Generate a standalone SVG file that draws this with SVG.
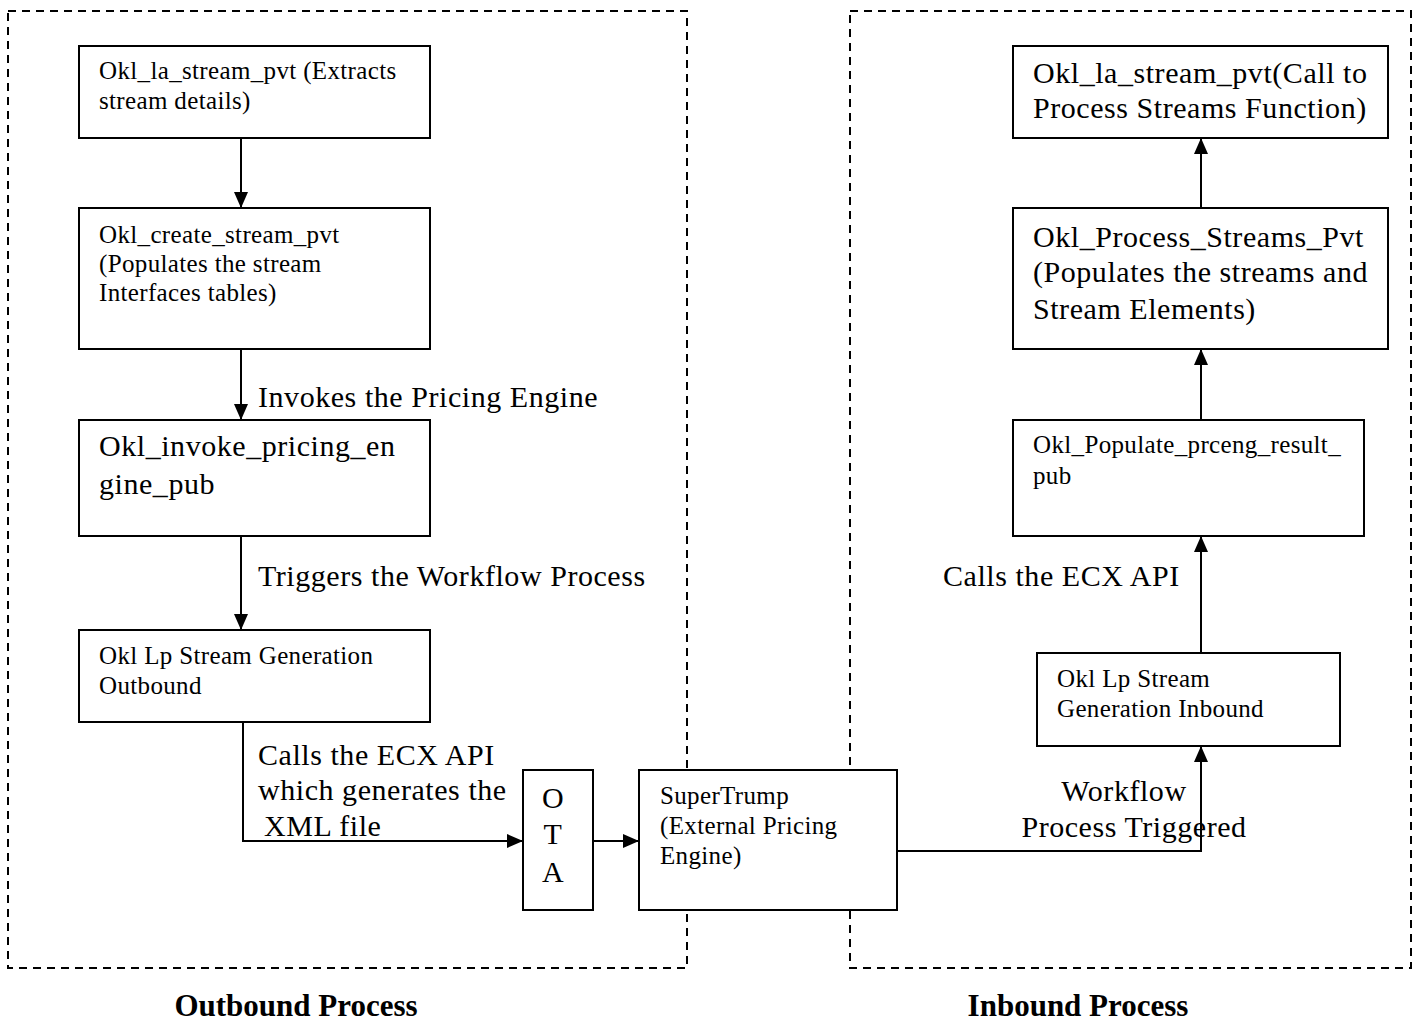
<svg xmlns="http://www.w3.org/2000/svg" width="1419" height="1023" viewBox="0 0 1419 1023">
<defs>
<style>
text{font-family:"Liberation Serif","Times New Roman",serif;fill:#000}
.s{font-size:25px;letter-spacing:0.35px}
.m{font-size:30px;letter-spacing:0.55px}
.b{font-size:31px;font-weight:bold}
.box{fill:#fff;stroke:#000;stroke-width:2}
.dash{fill:none;stroke:#000;stroke-width:2;stroke-dasharray:8 6}
.ln{fill:none;stroke:#000;stroke-width:2}
</style>
<marker id="ah" markerWidth="16" markerHeight="14" refX="15" refY="7" orient="auto" markerUnits="userSpaceOnUse">
<path d="M0,0 L16,7 L0,14 Z" fill="#000"/>
</marker>
</defs>
<rect width="1419" height="1023" fill="#fff"/>
<g id="regions">
<rect class="dash" x="8" y="11" width="679" height="957"/>
<rect class="dash" x="850" y="11" width="561" height="957"/>
</g>
<g id="connectors">
<line class="ln" x1="241" y1="138" x2="241" y2="207" marker-end="url(#ah)"/>
<line class="ln" x1="241" y1="349" x2="241" y2="419" marker-end="url(#ah)"/>
<line class="ln" x1="241" y1="536" x2="241" y2="629" marker-end="url(#ah)"/>
<polyline class="ln" points="243,722 243,841 522,841" marker-end="url(#ah)"/>
<line class="ln" x1="593" y1="841" x2="638" y2="841" marker-end="url(#ah)"/>
<polyline class="ln" points="897,851 1201,851 1201,747" marker-end="url(#ah)"/>
<line class="ln" x1="1201" y1="653" x2="1201" y2="537" marker-end="url(#ah)"/>
<line class="ln" x1="1201" y1="420" x2="1201" y2="350" marker-end="url(#ah)"/>
<line class="ln" x1="1201" y1="208" x2="1201" y2="139" marker-end="url(#ah)"/>
<text class="m" x="258" y="407">Invokes the Pricing Engine</text>
<text class="m" x="258" y="586">Triggers the Workflow Process</text>
<text class="m" x="258" y="765">Calls the ECX API</text>
<text class="m" x="258" y="800">which generates the</text>
<text class="m" x="264" y="836">XML file</text>
<text class="m" x="1124" y="801" text-anchor="middle">Workflow</text>
<text class="m" x="1134" y="837" text-anchor="middle">Process Triggered</text>
<text class="m" x="943" y="586">Calls the ECX API</text>
</g>
<g id="n1">
<rect class="box" x="79" y="46" width="351" height="92"/>
<text class="s" x="99" y="79">Okl_la_stream_pvt (Extracts</text>
<text class="s" x="99" y="109">stream details)</text>
</g>
<g id="n2">
<rect class="box" x="79" y="208" width="351" height="141"/>
<text class="s" x="99" y="243">Okl_create_stream_pvt</text>
<text class="s" x="99" y="272">(Populates the stream</text>
<text class="s" x="99" y="301">Interfaces tables)</text>
</g>
<g id="n3">
<rect class="box" x="79" y="420" width="351" height="116"/>
<text class="m" x="99" y="456">Okl_invoke_pricing_en</text>
<text class="m" x="99" y="494">gine_pub</text>
</g>
<g id="n4">
<rect class="box" x="79" y="630" width="351" height="92"/>
<text class="s" x="99" y="664">Okl Lp Stream Generation</text>
<text class="s" x="99" y="694">Outbound</text>
</g>
<g id="ota">
<rect class="box" x="523" y="770" width="70" height="140"/>
<text class="m" x="553" y="808" text-anchor="middle">O</text>
<text class="m" x="553" y="844" text-anchor="middle">T</text>
<text class="m" x="553" y="882" text-anchor="middle">A</text>
</g>
<g id="supertrump">
<rect class="box" x="639" y="770" width="258" height="140"/>
<text class="s" x="660" y="804">SuperTrump</text>
<text class="s" x="660" y="834">(External Pricing</text>
<text class="s" x="660" y="864">Engine)</text>
</g>
<g id="inbound">
<rect class="box" x="1037" y="653" width="303" height="93"/>
<text class="s" x="1057" y="687">Okl Lp Stream</text>
<text class="s" x="1057" y="717">Generation Inbound</text>
</g>
<g id="populate">
<rect class="box" x="1013" y="420" width="351" height="116"/>
<text class="s" x="1033" y="453">Okl_Populate_prceng_result_</text>
<text class="s" x="1033" y="484">pub</text>
</g>
<g id="process">
<rect class="box" x="1013" y="208" width="375" height="141"/>
<text class="m" x="1033" y="247">Okl_Process_Streams_Pvt</text>
<text class="m" x="1033" y="282">(Populates the streams and</text>
<text class="m" x="1033" y="319">Stream Elements)</text>
</g>
<g id="call">
<rect class="box" x="1013" y="46" width="375" height="92"/>
<text class="m" x="1033" y="83">Okl_la_stream_pvt(Call to</text>
<text class="m" x="1033" y="118">Process Streams Function)</text>
</g>
<g id="labels">
<text class="b" x="296" y="1016" text-anchor="middle">Outbound Process</text>
<text class="b" x="1078" y="1016" text-anchor="middle">Inbound Process</text>
</g>
</svg>
